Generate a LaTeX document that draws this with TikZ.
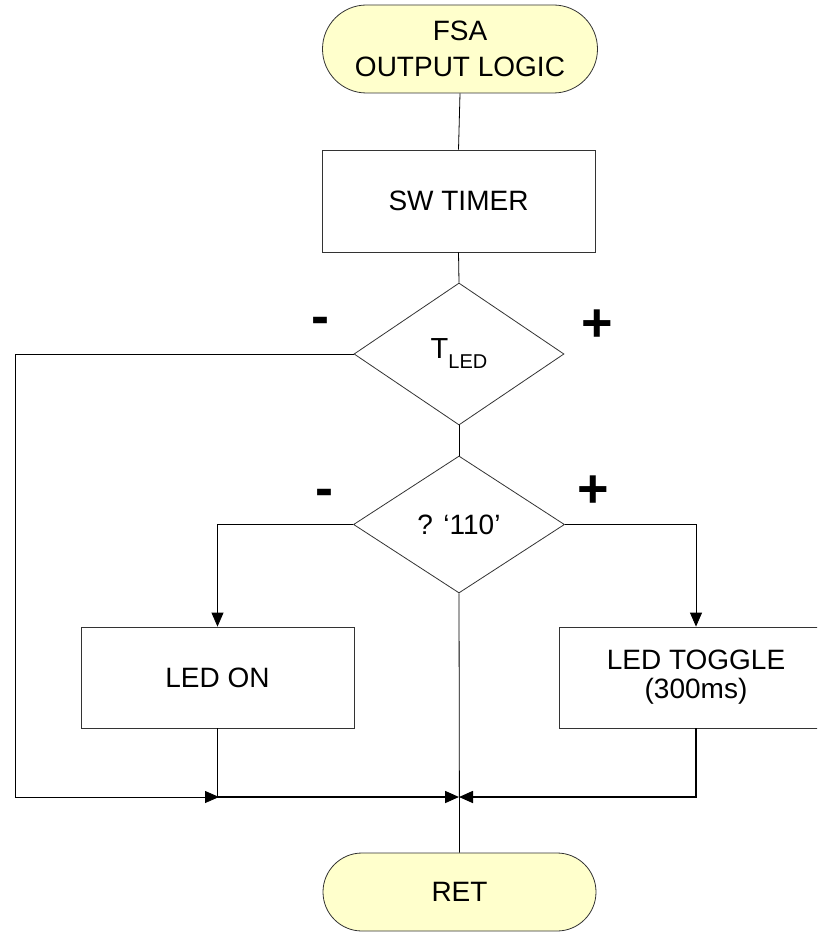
\documentclass[tikz,border=0pt]{standalone}
\usepackage{fontspec}
\setmainfont{Liberation Sans}
\usetikzlibrary{shapes.geometric,arrows.meta}
\definecolor{termfill}{RGB}{255,255,204}
\tikzset{
  base/.style={draw=black!80, line width=0.8pt, inner sep=0pt, align=center, font=\fontsize{28}{29}\selectfont},
  term/.style={base, rectangle, rounded corners=#1, fill=termfill},
  procbox/.style={base, rectangle},
  decide/.style={base, diamond},
  line/.style={line width=0.8pt, draw=black},
  arr/.style={line, -{Triangle[length=14pt,width=12pt]}},
  joinline/.style={line width=1.6pt, draw=black, -{Triangle[length=14pt,width=12pt]}},
  sign/.style={font=\fontsize{54}{54}\selectfont\bfseries, inner sep=0pt, anchor=base}
}
\begin{document}
\begin{tikzpicture}[x=1pt,y=-1pt]
\clip (0,0) rectangle (817,933);
\fill[white] (0,0) rectangle (817,933);

\node[term=44pt, minimum width=275pt, minimum height=88pt,
      font=\fontsize{28}{36}\selectfont] (start) at (460,49) {FSA\\OUTPUT LOGIC};
\node[procbox, minimum width=273pt, minimum height=102pt] (timer) at (458.5,201) {SW TIMER};
\node[decide, minimum width=210pt, minimum height=142pt] (d1) at (459,354)
  {\fontsize{29}{29}\selectfont T\raisebox{-10pt}{\fontsize{20}{20}\selectfont LED}};
\node[decide, minimum width=211pt, minimum height=137pt] (d2) at (459,524.5) {? ‘110’};
\node[procbox, minimum width=273pt, minimum height=101pt] (ledon) at (217.5,677.5) {LED ON};
\node[procbox, minimum width=274pt, minimum height=101pt] (toggle) at (696,677.5) {LED TOGGLE\\(300ms)};
\node[term=39pt, minimum width=273pt, minimum height=78pt] (ret) at (459.5,892) {RET};

\node[sign] (m1) at (320,334) {-};
\node[sign] (p1) at (597,341) {+};
\node[sign] (m2) at (324,506) {-};
\node[sign] (p2) at (593,507) {+};

\coordinate (lc) at (15,797);
\coordinate (jl) at (219,797);
\coordinate (jc) at (459,797);

\draw[line] (start.south) -- (timer.north);
\draw[line] (timer.south) -- (d1.north);
\draw[line] (d1.south) -- (d2.north);
\draw[arr] (d1.west) -| (lc) -- (jl);
\draw[arr] (d2.west) -| (ledon.north);
\draw[arr] (d2.east) -| (toggle.north);
\draw[line] (d2.south) -- (ret.north);
\draw[joinline] (ledon.south) |- (jc);
\draw[joinline] (toggle.south) |- (jc);
\end{tikzpicture}
\end{document}
